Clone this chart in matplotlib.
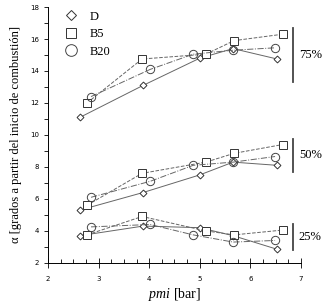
import matplotlib
matplotlib.use('Agg')
import matplotlib.pyplot as plt
from matplotlib.lines import Line2D
from matplotlib.ticker import MultipleLocator

plt.rcParams['mathtext.fontset'] = 'custom'
plt.rcParams['mathtext.it'] = 'Liberation Serif:italic'
plt.rcParams['mathtext.rm'] = 'Liberation Serif'

# pmi [bar] por combustible y carga
pmi_D = [2.63, 3.88, 5.0, 5.66, 6.53]
pmi_B5 = [2.77, 3.86, 5.12, 5.68, 6.64]
pmi_B20 = [2.85, 4.02, 4.87, 5.66, 6.49]

# 75 %
a75_D = [11.1, 13.1, 14.8, 15.4, 14.75]
a75_B5 = [12.0, 14.75, 15.05, 15.9, 16.3]
a75_B20 = [12.4, 14.1, 15.05, 15.3, 15.45]
# 50 %
a50_D = [5.3, 6.4, 7.5, 8.3, 8.1]
a50_B5 = [5.6, 7.6, 8.3, 8.85, 9.4]
a50_B20 = [6.1, 7.1, 8.1, 8.3, 8.65]
# 25 %
a25_D = [3.7, 4.3, 4.2, 3.7, 2.85]
a25_B5 = [3.75, 4.9, 4.0, 3.75, 4.05]
a25_B20 = [4.25, 4.4, 3.75, 3.3, 3.4]

cargas = ['75%', '50%', '25%']
barras = [(13.3, 16.7), (7.7, 9.75), (2.8, 4.4)]

fig = plt.figure(figsize=(3.27, 3.06), dpi=100)
ax = fig.add_axes([0.147, 0.141, 0.773, 0.836])

gris = '#666666'
estilo_D = dict(marker='D', markersize=3.5, ls='-', color=gris, lw=0.7, mfc='white', mec='#333333', mew=0.7)
estilo_B5 = dict(marker='s', markersize=5.5, ls='--', color=gris, lw=0.7, mfc='white', mec='#333333', mew=0.7)
estilo_B20 = dict(marker='o', markersize=6, ls='-.', color=gris, lw=0.7, mfc='none', mec='#444444', mew=0.7)

for aD, aB5, aB20 in [(a75_D, a75_B5, a75_B20), (a50_D, a50_B5, a50_B20), (a25_D, a25_B5, a25_B20)]:
    ax.plot(pmi_D, aD, **estilo_D)
    ax.plot(pmi_B5, aB5, **estilo_B5)
    ax.plot(pmi_B20, aB20, **estilo_B20)

# barras de carga
for txt, (y0, y1) in zip(cargas, barras):
    ax.plot([6.84, 6.84], [y0, y1], color='#444444', lw=1.3, clip_on=False)
    ax.text(6.96, (y0 + y1) / 2, txt, fontsize=9, family='Liberation Serif',
            va='center', ha='left', clip_on=False)

ax.set_xlim(2, 7)
ax.set_ylim(2, 18)
ax.spines['top'].set_visible(False)
ax.spines['right'].set_visible(False)
ax.spines['left'].set_linewidth(0.7)
ax.spines['bottom'].set_linewidth(0.7)

ax.xaxis.set_major_locator(MultipleLocator(1))
ax.xaxis.set_minor_locator(MultipleLocator(0.25))
ax.yaxis.set_major_locator(MultipleLocator(2))
ax.yaxis.set_minor_locator(MultipleLocator(1))
ax.tick_params(axis='x', which='major', direction='inout', length=7, width=0.6, labelsize=5, pad=6)
ax.tick_params(axis='x', which='minor', direction='in', length=3, width=0.6)
ax.tick_params(axis='y', which='both', direction='out', length=3, width=0.6, labelsize=5)

ax.set_xlabel(r'$\mathit{pmi}$ [bar]', fontsize=10, family='Liberation Serif', labelpad=3)
ax.set_ylabel('α [grados a partir del inicio de combustión]', fontsize=9, family='Liberation Serif', labelpad=6)

handles = [Line2D([], [], ls='none', **{k: v for k, v in estilo_D.items() if k != 'ls'}),
           Line2D([], [], ls='none', **{k: v for k, v in estilo_B5.items() if k != 'ls'}),
           Line2D([], [], ls='none', **{k: v for k, v in estilo_B20.items() if k != 'ls'})]
ax.legend(handles, ['D', 'B5', 'B20'], loc='upper left', bbox_to_anchor=(0.02, 1.03),
          frameon=False, prop={'family': 'Liberation Serif', 'size': 9}, markerscale=1.4,
          handlelength=1.0, handletextpad=1.0, labelspacing=0.45)

fig.savefig('out.png', dpi=100)
